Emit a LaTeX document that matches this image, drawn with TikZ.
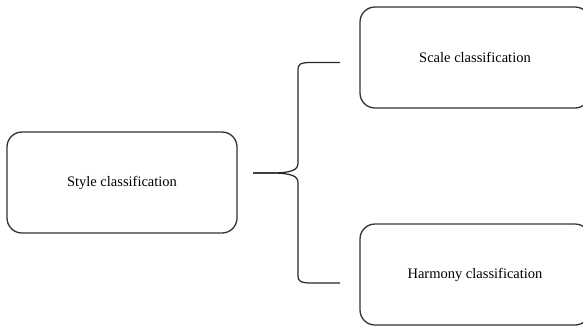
\documentclass[tikz,border=0pt]{standalone}
\usepackage{fontspec}
\setmainfont{Liberation Serif}
\begin{document}
\begin{tikzpicture}[x=1pt,y=-1pt,
  classbox/.style={draw=black!80, line width=1.3pt, rounded corners=15pt,
    minimum width=230pt, minimum height=101pt, inner sep=0pt,
    font=\fontsize{14.5}{17}\selectfont},
  bracepath/.style={draw=black!85, line width=1.2pt}]
\useasboundingbox (0,0) rectangle (583,325);
\node[classbox] (style) at (122,182.5) {Style classification};
\node[classbox] (scale) at (475,57.5) {Scale classification};
\node[classbox] (harmony) at (475,274.5) {Harmony classification};
\coordinate (tip) at (253,173);
\coordinate (topend) at (340,62.5);
\coordinate (botend) at (340,283);
\draw[bracepath] (topend) -- (312,62.5) .. controls (300,62.5) and (298,64) .. (298,70)
  -- (298,163) .. controls (298,170) and (292,173) .. (270,173) -- (tip);
\draw[bracepath] (tip) -- (270,173) .. controls (292,173) and (298,176) .. (298,183)
  -- (298,276) .. controls (298,281) and (300,283) .. (312,283) -- (botend);
\end{tikzpicture}
\end{document}
